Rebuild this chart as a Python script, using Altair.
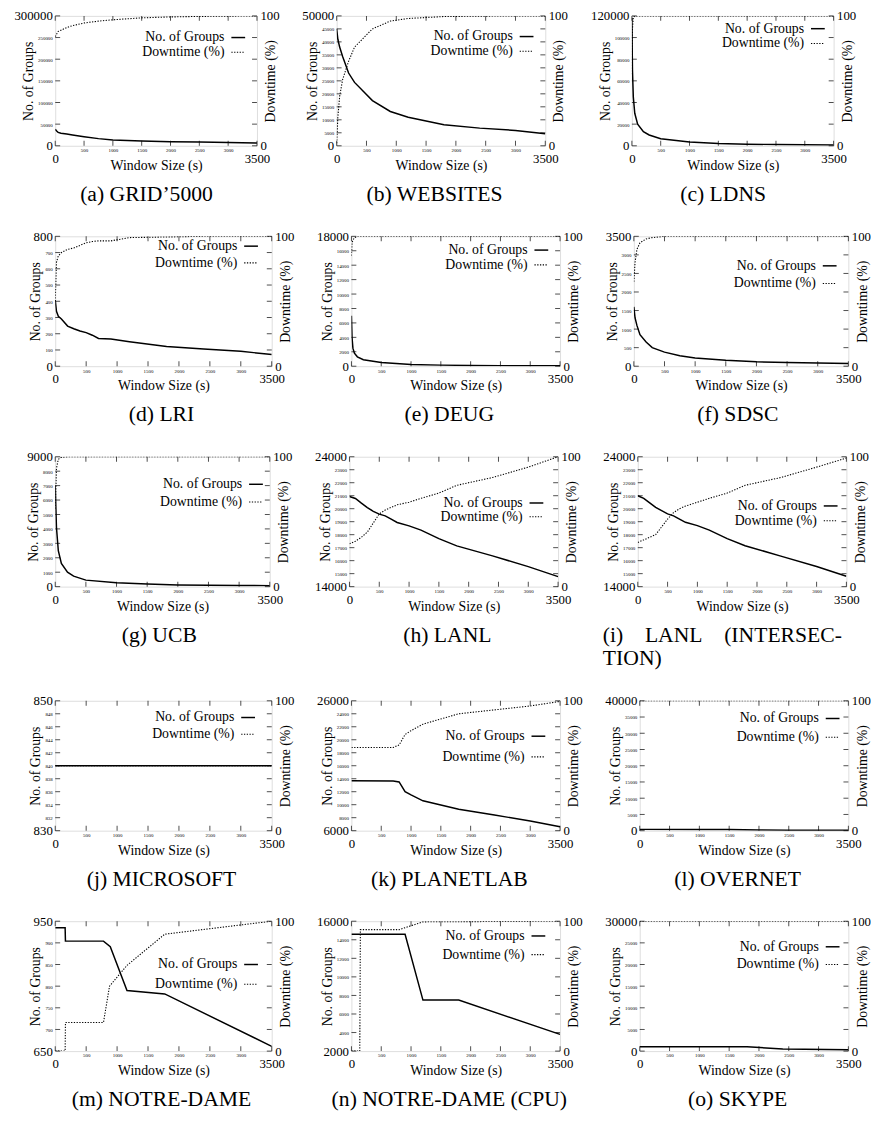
import altair as alt
import pandas as pd

FONT = "Liberation Serif, Times New Roman, Times, DejaVu Serif, serif"
X_MAX = 3500
X_TICKS = [0, 500, 1000, 1500, 2000, 2500, 3000, 3500]

# ---------------- data ----------------
# (a) Grid'5000
A_X = [0, 25, 50, 100, 200, 300, 500, 750, 1000, 1500, 2000, 2500, 3000, 3500]
A_GROUPS = [38000, 34000, 31000, 29000, 27000, 25000, 21000, 16500, 13500, 11000, 9500, 8500, 7500, 6500]
A_DOWN = [84, 86, 88, 89, 91, 92.5, 94.5, 96, 97, 98.5, 99.2, 99.6, 99.8, 100]
# (b) Websites
B_X = [0, 20, 50, 100, 200, 300, 600, 900, 1200, 1800, 2400, 3000, 3500]
B_GROUPS = [45000, 41000, 38000, 34400, 28000, 24400, 17400, 13200, 11000, 8100, 6800, 5900, 4600]
B_DOWN = [2, 22, 38, 51, 65, 76, 90, 96, 98, 99.5, 99.8, 100, 100]
# (c) LDNS
C_X = [0, 10, 25, 50, 100, 200, 300, 500, 1000, 1500, 2000, 2500, 3000, 3500]
C_GROUPS = [118000, 70000, 45000, 30000, 20000, 13000, 10000, 6500, 3500, 2200, 1500, 1100, 900, 700]
C_DOWN = [55, 90, 99, 100, 100, 100, 100, 100, 100, 100, 100, 100, 100, 100]
# (d) LRI
D_X = [0, 20, 50, 100, 200, 300, 400, 500, 600, 700, 900, 1200, 1800, 2400, 3000, 3500]
D_GROUPS = [408, 338, 307, 291, 247, 231, 217, 207, 191, 171, 167, 151, 121, 106, 92, 72]
D_DOWN = [50, 80, 85, 87.5, 90, 91, 93, 95, 96, 96.5, 96.5, 99, 99.5, 100, 100, 100]
# (e) Deug
E_X = [0, 10, 25, 50, 100, 200, 500, 1000, 1500, 2000, 2500, 3000, 3500]
E_GROUPS = [7000, 4000, 2500, 1800, 1300, 900, 500, 250, 150, 100, 80, 60, 50]
E_DOWN = [85, 95, 97, 99, 100, 100, 100, 100, 100, 100, 100, 100, 100]
# (f) SDSC
F_X = [0, 20, 50, 100, 200, 300, 500, 750, 1000, 1500, 2000, 2500, 3000, 3500]
F_GROUPS = [1600, 1300, 1100, 850, 650, 500, 380, 280, 220, 160, 120, 100, 85, 70]
F_DOWN = [65, 80, 90, 95, 98, 99, 100, 100, 100, 100, 100, 100, 100, 100]
# (g) UCB
G_X = [0, 20, 50, 100, 200, 300, 500, 1000, 1500, 2000, 2500, 3000, 3500]
G_GROUPS = [7000, 4100, 2500, 1600, 1000, 730, 450, 270, 180, 120, 100, 80, 70]
G_DOWN = [60, 91, 98, 99.5, 100, 100, 100, 100, 100, 100, 100, 100, 100]
# (h) LANL
H_X = [0, 100, 200, 300, 400, 500, 600, 700, 800, 1000, 1200, 1500, 1800, 2400, 3000, 3500]
H_GROUPS = [20940, 20790, 20430, 20090, 19800, 19580, 19450, 19200, 18940, 18680, 18350, 17700, 17140, 16370, 15540, 14770]
H_DOWN = [33, 35, 38, 42, 49, 56, 59, 61, 63, 65, 68, 72, 78, 84, 92, 100]
# (i) LANL (intersection)
I_X = [0, 100, 200, 300, 400, 500, 600, 700, 800, 1000, 1200, 1500, 1800, 2400, 3000, 3500]
I_GROUPS = [21000, 20800, 20450, 20100, 19850, 19600, 19450, 19200, 18950, 18700, 18350, 17700, 17150, 16350, 15550, 14800]
I_DOWN = [34, 36, 38, 40, 46, 52, 57, 60, 62, 65, 68, 72, 78, 84, 92, 99]
# (j) Microsoft
J_X = [0, 3500]
J_GROUPS = [840, 840]
J_DOWN = [50, 50]
# (k) PlanetLab
K_X = [0, 700, 800, 900, 1000, 1200, 1800, 2400, 3000, 3500]
K_GROUPS = [13700, 13650, 13500, 12000, 11500, 10600, 9300, 8400, 7500, 6600]
K_DOWN = [64, 64, 66, 74, 77, 82, 90, 93, 96, 99.5]
# (l) Overnet
L_X = [0, 1000, 1500, 2000, 2500, 3500]
L_GROUPS = [400, 380, 350, 200, 150, 100]
L_DOWN = [100, 100, 100, 100, 100, 100]
# (m) Notre-Dame
M_X = [0, 160, 165, 780, 890, 1160, 1770, 3500]
M_GROUPS = [935, 935, 904, 904, 891, 790, 782, 661]
M_DOWN_X = [0, 160, 165, 780, 878, 1160, 1770, 3500]
M_DOWN = [0, 0, 22, 22, 50, 66, 90, 100]
# (n) Notre-Dame (CPU)
N_X = [0, 900, 1200, 1800, 3500]
N_GROUPS = [14600, 14600, 7500, 7500, 3800]
N_DOWN_X = [0, 140, 150, 800, 900, 1200, 3500]
N_DOWN = [0, 0, 93.5, 93.5, 95, 99.5, 100]
# (o) Skype
O_X = [0, 1800, 2400, 3500]
O_GROUPS = [1000, 1000, 500, 300]
O_DOWN = [100, 100, 100, 100]

# caption, groups x, groups, downtime x, downtime, y min, y max, y step
PANELS = [
    (["(a) GRID\u20195000"], A_X, A_GROUPS, A_X, A_DOWN, 0, 300000, 50000),
    (["(b) WEBSITES"], B_X, B_GROUPS, B_X, B_DOWN, 0, 50000, 5000),
    (["(c) LDNS"], C_X, C_GROUPS, C_X, C_DOWN, 0, 120000, 20000),
    (["(d) LRI"], D_X, D_GROUPS, D_X, D_DOWN, 0, 800, 100),
    (["(e) DEUG"], E_X, E_GROUPS, E_X, E_DOWN, 0, 18000, 2000),
    (["(f) SDSC"], F_X, F_GROUPS, F_X, F_DOWN, 0, 3500, 500),
    (["(g) UCB"], G_X, G_GROUPS, G_X, G_DOWN, 0, 9000, 1000),
    (["(h) LANL"], H_X, H_GROUPS, H_X, H_DOWN, 14000, 24000, 1000),
    (["(i)\u00a0\u00a0\u00a0\u00a0LANL\u00a0\u00a0\u00a0\u00a0(INTERSEC-", "TION)"], I_X, I_GROUPS, I_X, I_DOWN, 14000, 24000, 1000),
    (["(j) MICROSOFT"], J_X, J_GROUPS, J_X, J_DOWN, 830, 850, 2),
    (["(k) PLANETLAB"], K_X, K_GROUPS, K_X, K_DOWN, 6000, 26000, 2000),
    (["(l) OVERNET"], L_X, L_GROUPS, L_X, L_DOWN, 0, 40000, 5000),
    (["(m) NOTRE-DAME"], M_X, M_GROUPS, M_DOWN_X, M_DOWN, 650, 950, 50),
    (["(n) NOTRE-DAME (CPU)"], N_X, N_GROUPS, N_DOWN_X, N_DOWN, 2000, 16000, 2000),
    (["(o) SKYPE"], O_X, O_GROUPS, O_X, O_DOWN, 0, 30000, 5000),
]

# layout: legend rows (px below frame top) and legend text inset from frame right
LEGEND_POS = [
    (22, 37, 33), (21, 36, 33), (13, 28, 30),
    (10, 27, 35), (14, 29, 33), (30, 48, 33),
    (28, 46, 28), (47, 61, 36), (50, 65, 30),
    (17, 34, 38), (36, 57, 36), (18, 37, 30),
    (44, 64, 35), (15, 34, 36), (26, 44, 30),
]

COL = 270
H = 132
BIG = 13
TINY = 5
TICK = 5


def one_point():
    return alt.Data(values=[{"k": 0}])


def build(spec, legend):
    caption, gx, gv, dx, dv, lo, hi, step = spec
    r1, r2, inset = legend
    ticks = list(range(lo, hi + step, step))
    big_digits = max(len(str(lo)), len(str(hi)))
    tiny_digits = max(len(str(v)) for v in ticks[1:-1])
    tx = tiny_digits * 2.5 + 12
    left = max(big_digits * 6.5 + 3, tx + 7)
    W = int(round(COL - left - 23))

    big_x = "datum.value == 0 || datum.value == 3500"
    xaxis = alt.Axis(
        values=X_TICKS, format="d", labelFont=FONT,
        labelFontSize={"condition": {"test": big_x, "value": BIG}, "value": TINY},
        labelPadding={"condition": {"test": big_x, "value": 7}, "value": 2},
        labelFlush=False, labelOverlap=False, ticks=False, domain=False, grid=False,
        title="Window Size (s)", titleFont=FONT, titleFontSize=14, titleFontWeight="normal",
        titleY=13, titleBaseline="top", titleColor="black", labelColor="black",
    )
    xscale = alt.Scale(domain=[0, X_MAX], nice=False, zero=False)
    xenc = alt.X("x:Q", scale=xscale, axis=xaxis)
    lscale = alt.Scale(domain=[lo, hi], nice=False, zero=False)

    laxis = alt.Axis(
        values=ticks, format="d", labelFont=FONT,
        labelFontSize={"condition": {"test": f"datum.value == {lo} || datum.value == {hi}", "value": BIG}, "value": TINY},
        labelPadding=3, labelFlush=False, labelOverlap=False, ticks=False, domain=False, grid=False,
        minExtent=0, title="No. of Groups", titleFont=FONT, titleFontSize=14, titleFontWeight="normal",
        titleAngle=270, titleBaseline="middle", titleX=-tx, titleColor="black", labelColor="black",
    )
    raxis = alt.Axis(
        orient="right", values=[0, 100], format="d", labelFont=FONT, labelFontSize=BIG,
        labelPadding=3, labelFlush=False, labelOverlap=False, ticks=False, domain=False, grid=False,
        minExtent=0, title="Downtime (%)", titleFont=FONT, titleFontSize=14, titleFontWeight="normal",
        titleAngle=270, titleBaseline="middle", titleX=14, titleColor="black", labelColor="black",
    )

    groups = alt.Chart(pd.DataFrame({"x": gx, "v": gv})).mark_line(
        color="black", strokeWidth=1.5, clip=True
    ).encode(x=xenc, y=alt.Y("v:Q", scale=lscale, axis=laxis))
    down = alt.Chart(pd.DataFrame({"x": dx, "v": dv})).mark_line(
        color="black", strokeWidth=1.1, strokeDash=[1.3, 1.5], clip=True
    ).encode(x=xenc, y=alt.Y("v:Q", scale=alt.Scale(domain=[0, 100], nice=False, zero=False), axis=raxis))

    # inward tick marks on all four sides (gnuplot style, mirrored)
    ydf = pd.DataFrame({"t": ticks})
    xdf = pd.DataFrame({"x": X_TICKS})
    lt = alt.Chart(ydf).mark_tick(color="black", thickness=1, size=TICK).encode(
        y=alt.Y("t:Q", scale=lscale, axis=None), x=alt.value(TICK / 2))
    rt = alt.Chart(ydf).mark_tick(color="black", thickness=1, size=TICK).encode(
        y=alt.Y("t:Q", scale=lscale, axis=None), x=alt.value(W - TICK / 2))
    bt = alt.Chart(xdf).mark_tick(color="black", thickness=1, size=TICK).encode(
        x=xenc, y=alt.value(H - TICK / 2))
    tt = alt.Chart(xdf).mark_tick(color="black", thickness=1, size=TICK).encode(
        x=xenc, y=alt.value(TICK / 2))

    tx_right = W - inset
    lab1 = alt.Chart(one_point()).mark_text(
        font=FONT, fontSize=14, align="right", baseline="middle", color="black", text="No. of Groups"
    ).encode(x=alt.value(tx_right), y=alt.value(r1))
    lab2 = alt.Chart(one_point()).mark_text(
        font=FONT, fontSize=14, align="right", baseline="middle", color="black", text="Downtime (%)"
    ).encode(x=alt.value(tx_right), y=alt.value(r2))
    key1 = alt.Chart(one_point()).mark_rule(color="black", strokeWidth=1.5).encode(
        x=alt.value(tx_right + 7), x2=alt.value(tx_right + 21), y=alt.value(r1))
    key2 = alt.Chart(one_point()).mark_rule(color="black", strokeWidth=1.1, strokeDash=[1.3, 1.5]).encode(
        x=alt.value(tx_right + 7), x2=alt.value(tx_right + 21), y=alt.value(r2))

    multi = len(caption) > 1
    title = alt.TitleParams(
        text=caption, orient="bottom", font=FONT, fontSize=22, fontWeight="normal", color="black",
        offset=12, frame="bounds", anchor="start" if multi else "middle", lineHeight=24,
    )
    return alt.layer(groups, down, lt, rt, bt, tt, lab1, lab2, key1, key2).resolve_scale(
        y="independent"
    ).properties(width=W, height=H, title=title)


panels = [build(s, l) for s, l in zip(PANELS, LEGEND_POS)]
rows = [alt.hconcat(*panels[i:i + 3], spacing=22) for i in range(0, 15, 3)]
chart = alt.vconcat(*rows, spacing=24).properties(
    padding={"left": 5, "top": -8, "right": 0, "bottom": 0}
).configure_view(stroke="black", strokeWidth=1.2).configure(background="white")

chart.save("out.html", embed_options={"renderer": "svg", "actions": False})
